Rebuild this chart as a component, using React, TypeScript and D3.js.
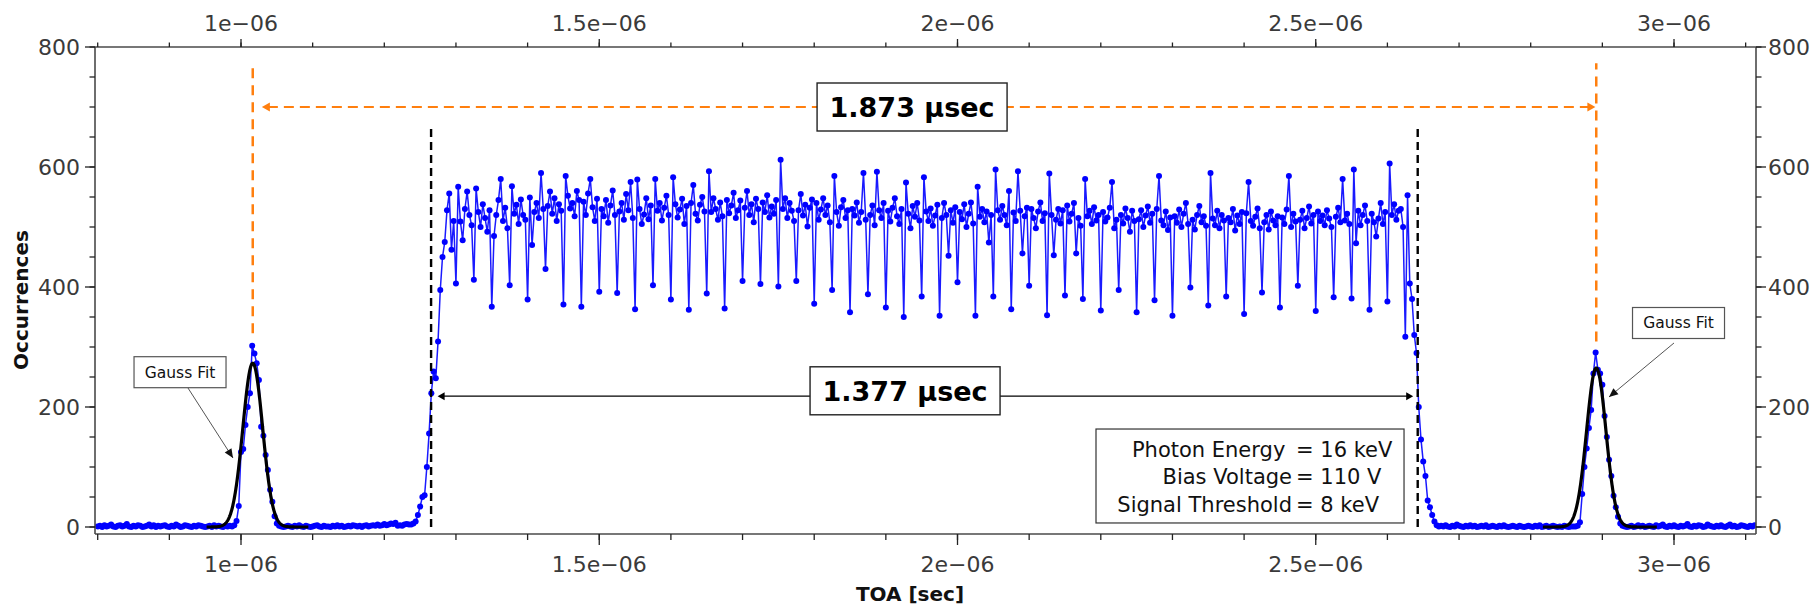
import React from 'react';
import * as d3 from 'd3';

// ---- data: TOA histogram (bin start + bin width in seconds) ----
const BIN_START = 0.8e-6;
const BIN_WIDTH = 3.125e-9;

const baselineLeft = [
  1,2,0,3,1,2,4,1,0,2, 3,1,2,5,1,0,2,1,3,2, 0,1,2,4,1,3,0,2,1,2,
  3,1,0,2,1,4,2,0,1,3, 2,1,0,2,1,3,2,1,0,1, 2,0,3,1,2,1,0,2,1,2,
];
const peakLeft = [1,3,10,35,125,130,170,200,223,302,289,273,245,167,152,120,95,62,42,18,6,2,1];
const baselineMid = [
  0,1,2,1,0,2,1,3,1,0, 2,1,0,1,2,3,1,0,2,1, 1,0,2,1,3,1,2,0,1,2,
  1,3,2,1,2,0,2,3,1,2, 3,2,4,2,3,5,3,4,6,5,7,
];
const risingEdge = [2,3,2,4,5,4,4,6,9,20,34,50,53,100,156,223,259,248,309,395,450,475,528,556,462,510];
const plateau = [
  406,567,509,478,530,559,520,503,
  412,564,525,500,538,515,492,528,
  367,485,520,545,580,510,532,498,
  403,568,522,537,505,546,520,512,
  379,549,470,525,540,515,590,530,
  430,535,559,522,548,510,538,527,
  371,585,552,531,540,518,560,545,
  367,542,520,556,580,533,510,547,
  392,530,518,545,507,536,561,520,
  390,526,540,512,555,528,575,515,
  363,579,530,505,521,548,513,536,
  403,580,527,540,511,532,552,520,
  379,583,538,516,529,547,505,535,
  362,540,570,522,511,537,550,526,
  389,593,525,548,530,512,541,518,
  364,545,523,536,557,515,528,544,
  410,532,560,520,538,508,547,530,
  405,541,525,553,516,534,522,545,
  401,612,530,548,515,540,527,510,
  410,528,555,519,537,501,532,546,
  372,540,512,529,548,520,536,508,
  395,585,525,502,533,545,515,528,
  358,530,519,541,507,525,590,512,
  388,520,536,503,592,528,515,540,
  366,527,509,532,548,518,505,530,
  350,574,522,498,535,517,540,511,
  384,583,526,510,531,502,519,537,
  352,515,540,520,452,528,507,533,
  408,525,513,538,500,522,541,506,
  352,567,517,530,508,526,474,520,
  384,596,528,512,535,520,503,560,
  363,524,510,593,527,456,518,532,
  402,530,515,498,526,541,510,523,
  353,589,520,453,512,530,506,528,
  386,536,509,522,540,456,515,502,
  380,580,518,527,505,533,511,520,
  361,525,509,516,532,575,498,512,
  395,520,506,531,515,492,527,510,
  358,513,528,500,519,534,507,522,
  378,530,585,511,503,526,495,516,
  352,518,507,529,500,522,540,505,
  399,512,496,520,535,508,518,502,
  369,590,514,503,527,498,520,511,
  384,515,508,530,494,519,505,525,
  355,523,575,510,502,517,531,498,
  391,508,520,496,526,511,503,518,
  366,516,505,529,585,500,522,509,
  402,512,527,498,515,534,506,520,
  360,526,510,519,503,528,514,500,
  383,517,532,508,580,511,522,505,
  381,596,473,527,503,520,536,510,
  362,522,508,484,514,540,505,525,
  376,606,520,538,512,527,530,500,
];
const fallingEdge = [317,553,406,380,320,290,200,146,109,85,44,33,20,9,3,1];
const baselineRight = [
  2,1,3,1,0,2,1,4,2,1, 0,2,1,3,1,2,0,1,2,1, 3,0,1,2,1,0,2,1,3,1,
  0,1,2,1,0,2,1,0,1,2, 1,0,2,1,3,0,1,2,0,1, 2,1,0,1,0,2,1,0,1,1,
];
const peakRight = [1,2,8,55,100,131,165,195,256,291,262,256,237,185,150,112,85,52,33,17,6,2,1];
const baselineEnd = [
  0,1,2,0,1,3,1,2,0,1, 2,1,0,3,1,2,4,1,0,2, 1,3,1,0,2,1,2,5,1,0,
  2,1,3,2,0,1,4,2,1,0, 2,1,3,1,0,2,4,1,2,0, 1,3,2,1,0,2,1,3,
];

const occurrences = [
  ...baselineLeft, ...peakLeft, ...baselineMid, ...risingEdge, ...plateau,
  ...fallingEdge, ...baselineRight, ...peakRight, ...baselineEnd,
];

// Gauss fits
const fitAmplitudes = [273, 265];
const fitMeans = [1.0164e-6, 2.8915e-6];
const fitSigmas = [13.8e-9, 13.5e-9];
const fitFrom = [0.952e-6, 2.817e-6];
const fitTo = [1.094e-6, 2.976e-6];

// markers (edges of the plateau)
const edgeMarkers = [1.2653e-6, 2.6423e-6];

// axes
const xMajorTicks = [1e-6, 1.5e-6, 2e-6, 2.5e-6, 3e-6];
const xTickLabels = ['1e\u221206', '1.5e\u221206', '2e\u221206', '2.5e\u221206', '3e\u221206'];
const yMajorTicks = [0, 200, 400, 600, 800];
const yTickLabels = ['0', '200', '400', '600', '800'];

const infoLeft = ['Photon Energy ', 'Bias Voltage', 'Signal Threshold'];
const infoRight = ['= 16 keV', '= 110 V', '= 8 keV'];

const FONT = 'DejaVu Sans';

export default function App() {
  const L = 95, R = 1756, T = 47, B = 534;
  const x = d3.scaleLinear().domain([0.79623e-6, 3.11444e-6]).range([L, R]);
  const y = d3.scaleLinear().domain([-11.67, 800]).range([B, T]);

  const pts: [number, number][] = occurrences.map((v, i) => [BIN_START + i * BIN_WIDTH, v]);
  const line = d3.line<[number, number]>().x(d => x(d[0])).y(d => y(d[1]));

  const fitPaths = fitMeans.map((mu, k) => {
    const xs = d3.range(fitFrom[k], fitTo[k], 0.5e-9).concat([fitTo[k]]);
    const p: [number, number][] = xs.map(t => [t, fitAmplitudes[k] * Math.exp(-((t - mu) ** 2) / (2 * fitSigmas[k] ** 2))]);
    return line(p);
  });

  const xMinor = d3.range(8, 32).map(k => k * 1e-7);
  const yMinor = d3.range(0, 801, 50);

  const orange = '#ff7f0e';
  const axisCol = '#4a4a4a';
  const labelCol = '#3a3a3a';

  // annotation anchors (data units)
  const orangeY = 700;
  const orangeLeftTip = 1.0291e-6;
  const orangeRightTip = 2.8903e-6;
  const blackY = 218;
  const blackLeftTip = 1.2744e-6;
  const blackRightTip = 2.6360e-6;

  const arrowHead = (tx: number, ty: number, dir: number, len: number, half: number) =>
    `M${tx},${ty} L${tx + dir * len},${ty - half} L${tx + dir * len},${ty + half} Z`;

  const slantHead = (x1: number, y1: number, x2: number, y2: number, len: number, half: number) => {
    const a = Math.atan2(y2 - y1, x2 - x1);
    const bx = x2 - len * Math.cos(a), by = y2 - len * Math.sin(a);
    const nx = -Math.sin(a) * half, ny = Math.cos(a) * half;
    return `M${x2},${y2} L${bx + nx},${by + ny} L${bx - nx},${by - ny} Z`;
  };

  const gaussNotes = [
    { bx: 0.9149e-6, by: 258, x1: 0.926e-6, y1: 231.7, x2: 0.9888e-6, y2: 115 },
    { bx: 3.0063e-6, by: 340, x1: 3.0e-6, y1: 306.7, x2: 2.9093e-6, y2: 216.7 },
  ];

  const bigLabels = [
    { text: '1.873 \u00b5sec', cx: 1.9366e-6, cy: 700 },
    { text: '1.377 \u00b5sec', cx: 1.9268e-6, cy: 227 },
  ];

  const ix1 = x(2.1933e-6), ix2 = x(2.6232e-6), iy1 = y(163.3), iy2 = y(6.7);

  return (
    <svg width={1816} height={608} style={{ position: 'absolute', left: 0, top: 0, background: '#fff' }}
      fontFamily={FONT}>
      <defs>
        <clipPath id="plot"><rect x={L} y={T} width={R - L} height={B - T} /></clipPath>
      </defs>
      <rect x={0} y={0} width={1816} height={608} fill="#fff" />

      {/* data */}
      <g clipPath="url(#plot)">
        <path d={line(pts) || ''} fill="none" stroke="#1a1aff" strokeWidth={1.5} />
        {pts.map((d, i) => (
          <circle key={i} cx={x(d[0])} cy={y(d[1])} r={3.0} fill="#0000ff" />
        ))}
      </g>

      {/* edge markers */}
      {edgeMarkers.map((m, i) => (
        <line key={i} x1={x(m)} x2={x(m)} y1={y(0)} y2={y(665)} stroke="#000" strokeWidth={2.4} strokeDasharray="8,5" />
      ))}

      {/* gauss fits */}
      {fitPaths.map((p, i) => (
        <path key={i} d={p || ''} fill="none" stroke="#000" strokeWidth={3.2} strokeLinejoin="round" />
      ))}

      {/* orange markers */}
      <line x1={x(fitMeans[0])} x2={x(fitMeans[0])} y1={y(323)} y2={y(773)} stroke={orange} strokeWidth={2.5} strokeDasharray="10,7" />
      <line x1={x(fitMeans[1])} x2={x(fitMeans[1])} y1={y(309)} y2={y(773)} stroke={orange} strokeWidth={2.5} strokeDasharray="10,7" />
      <line x1={x(orangeLeftTip) + 6} x2={x(orangeRightTip) - 6} y1={y(orangeY)} y2={y(orangeY)} stroke={orange} strokeWidth={2.2} strokeDasharray="10,6" />
      <path d={arrowHead(x(orangeLeftTip), y(orangeY), 1, 8, 4.5)} fill={orange} />
      <path d={arrowHead(x(orangeRightTip), y(orangeY), -1, 8, 4.5)} fill={orange} />

      {/* black distance arrow */}
      <line x1={x(blackLeftTip) + 5} x2={x(blackRightTip) - 5} y1={y(blackY)} y2={y(blackY)} stroke="#000" strokeWidth={1.3} />
      <path d={arrowHead(x(blackLeftTip), y(blackY), 1, 7, 4)} fill="#000" />
      <path d={arrowHead(x(blackRightTip), y(blackY), -1, 7, 4)} fill="#000" />

      {/* big labels */}
      {bigLabels.map((b, i) => (
        <g key={i}>
          <rect x={x(b.cx) - 95} y={y(b.cy) - 24} width={190} height={48} fill="#fff" stroke="#222" strokeWidth={1.4} />
          <text x={x(b.cx)} y={y(b.cy) + 10} textAnchor="middle" fontSize={27} fontWeight="bold" fill="#000">{b.text}</text>
        </g>
      ))}

      {/* gauss fit notes */}
      {gaussNotes.map((g, i) => (
        <g key={i}>
          <line x1={x(g.x1)} y1={y(g.y1)} x2={x(g.x2)} y2={y(g.y2)} stroke="#555" strokeWidth={1} />
          <path d={slantHead(x(g.x1), y(g.y1), x(g.x2), y(g.y2), 9, 4)} fill="#111" />
          <rect x={x(g.bx) - 46} y={y(g.by) - 15.5} width={92} height={31} fill="#fff" stroke="#555" strokeWidth={1.2} />
          <text x={x(g.bx)} y={y(g.by) + 5.5} textAnchor="middle" fontSize={15.5} fill="#111">Gauss Fit</text>
        </g>
      ))}

      {/* info box */}
      <rect x={ix1} y={iy1} width={ix2 - ix1} height={iy2 - iy1} fill="#fff" stroke="#333" strokeWidth={1.2} />
      {infoLeft.map((t, i) => (
        <g key={i} fontSize={21} fill="#111">
          <text x={1292} y={456.5 + i * 27.5} textAnchor="end" style={{ whiteSpace: 'pre' }}>{t}</text>
          <text x={1296} y={456.5 + i * 27.5} textAnchor="start">{infoRight[i]}</text>
        </g>
      ))}

      {/* axes lines */}
      <g stroke={axisCol} strokeWidth={1.6} fill="none">
        <line x1={L} x2={R} y1={T} y2={T} />
        <line x1={L} x2={R} y1={B} y2={B} />
        <line x1={L} x2={L} y1={T} y2={B} />
        <line x1={R} x2={R} y1={T} y2={B} />
      </g>
      {/* ticks */}
      <g stroke="#222" strokeWidth={1.3}>
        {xMinor.map((t, i) => (
          <g key={i}>
            <line x1={x(t)} x2={x(t)} y1={B} y2={B + 6} />
            <line x1={x(t)} x2={x(t)} y1={T} y2={T - 4.5} />
          </g>
        ))}
        {xMajorTicks.map((t, i) => (
          <g key={i}>
            <line x1={x(t)} x2={x(t)} y1={B} y2={B + 11} />
            <line x1={x(t)} x2={x(t)} y1={T} y2={T - 8} />
          </g>
        ))}
        {yMinor.map((t, i) => (
          <g key={i}>
            <line x1={L} x2={L - 5.5} y1={y(t)} y2={y(t)} />
            <line x1={R} x2={R + 5.5} y1={y(t)} y2={y(t)} />
          </g>
        ))}
        {yMajorTicks.map((t, i) => (
          <g key={i}>
            <line x1={L} x2={L - 10} y1={y(t)} y2={y(t)} />
            <line x1={R} x2={R + 10} y1={y(t)} y2={y(t)} />
          </g>
        ))}
      </g>
      <g fontSize={22} fill={labelCol}>
        {xMajorTicks.map((t, i) => (
          <g key={i}>
            <text x={x(t)} y={571.5} textAnchor="middle">{xTickLabels[i]}</text>
            <text x={x(t)} y={30.5} textAnchor="middle">{xTickLabels[i]}</text>
          </g>
        ))}
        {yMajorTicks.map((t, i) => (
          <g key={i}>
            <text x={80} y={y(t) + 8} textAnchor="end">{yTickLabels[i]}</text>
            <text x={1768} y={y(t) + 8} textAnchor="start">{yTickLabels[i]}</text>
          </g>
        ))}
      </g>

      {/* axis titles */}
      <text x={910} y={601} textAnchor="middle" fontSize={20} fontWeight="bold" fill="#111">TOA [sec]</text>
      <text transform="translate(28,300) rotate(-90)" textAnchor="middle" fontSize={20} fontWeight="bold" fill="#111">Occurrences</text>
    </svg>
  );
}
